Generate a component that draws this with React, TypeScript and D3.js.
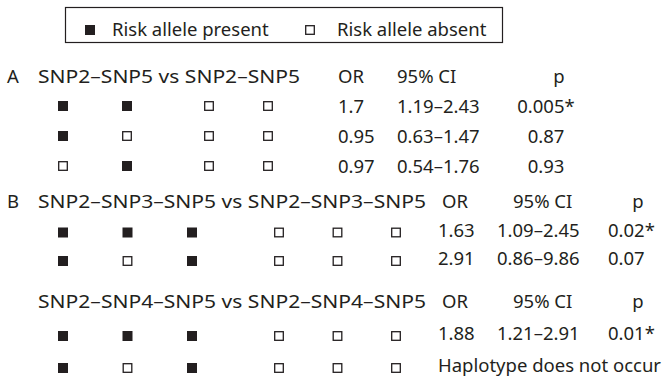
import React from "react";
import * as d3 from "d3";

// legend
const legendLabels = ["Risk allele present", "Risk allele absent"];
const colHeaders = ["OR", "95% CI", "p"];

// A: two-SNP haplotypes
const titleA = "SNP2–SNP5 vs SNP2–SNP5";
const hapA = [
  [1, 1, 0, 0],
  [1, 0, 0, 0],
  [0, 1, 0, 0],
];
const orA = ["1.7", "0.95", "0.97"];
const ciA = ["1.19–2.43", "0.63–1.47", "0.54–1.76"];
const pA = ["0.005*", "0.87", "0.93"];

// B: three-SNP haplotypes
const titleB1 = "SNP2–SNP3–SNP5 vs SNP2–SNP3–SNP5";
const hapB1 = [
  [1, 1, 1, 0, 0, 0],
  [1, 0, 1, 0, 0, 0],
];
const orB1 = ["1.63", "2.91"];
const ciB1 = ["1.09–2.45", "0.86–9.86"];
const pB1 = ["0.02*", "0.07"];

const titleB2 = "SNP2–SNP4–SNP5 vs SNP2–SNP4–SNP5";
const hapB2 = [
  [1, 1, 1, 0, 0, 0],
  [1, 0, 1, 0, 0, 0],
];
const orB2 = ["1.88", ""];
const ciB2 = ["1.21–2.91", ""];
const pB2 = ["0.01*", ""];
const notOccur = "Haplotype does not occur";

const INK = "#231f20";
const FONT = "'Noto Sans', sans-serif";
const FS = 18.5;

const Square = ({ cx, cy, on }) =>
  on ? (
    <rect x={cx - 5} y={cy - 5} width={10} height={10} fill={INK} />
  ) : (
    <rect x={cx - 4.3} y={cy - 4.3} width={8.6} height={8.6} fill="white" stroke={INK} strokeWidth={1.3} />
  );

const Block = ({ label, title, titleLen, haps, or, ci, p, y, xl, xr, cols, sqOff, note }) => {
  const nLeft = haps[0].length / 2;
  return (
    <g fontFamily={FONT} fontSize={FS} fill={INK}>
      {label && <text x={7} y={y(0)}>{label}</text>}
      <text x={38} y={y(0)} textLength={titleLen} lengthAdjust="spacingAndGlyphs">{title}</text>
      <text x={cols.orH} y={y(0)}>{colHeaders[0]}</text>
      <text x={cols.ciH} y={y(0)}>{colHeaders[1]}</text>
      <text x={cols.pH} y={y(0)} textAnchor="middle">{colHeaders[2]}</text>
      {haps.map((row, i) => (
        <g key={i}>
          {row.map((v, j) => (
            <Square key={j} cx={j < nLeft ? xl(j) : xr(j - nLeft)} cy={y(i + 1) - sqOff} on={v === 1} />
          ))}
          {or[i] ? (
            <>
              <text x={cols.or} y={y(i + 1)}>{or[i]}</text>
              <text x={cols.ci} y={y(i + 1)}>{ci[i]}</text>
              <text x={cols.p} y={y(i + 1)} textAnchor={cols.pAnchor}>{p[i]}</text>
            </>
          ) : (
            <text x={cols.or} y={y(i + 1)}>{note}</text>
          )}
        </g>
      ))}
    </g>
  );
};

export default function App() {
  const W = 668;
  const H = 378;

  // row baselines per block
  const yA = d3.scaleLinear().domain([0, 3]).range([83, 173]);
  const yB1 = d3.scaleLinear().domain([0, 2]).range([208, 265]);
  const yB2 = d3.scaleLinear().domain([0, 2]).range([308, 372]);

  // allele columns
  const xlA = d3.scalePoint().domain([0, 1]).range([63, 127]);
  const xrA = d3.scalePoint().domain([0, 1]).range([209, 268]);
  const xlB = d3.scalePoint().domain([0, 1, 2]).range([63, 192]);
  const xrB = d3.scalePoint().domain([0, 1, 2]).range([279, 396]);

  const colsA = { orH: 338, or: 338, ciH: 397, ci: 397, pH: 559, p: 546, pAnchor: "middle" };
  const colsB = { orH: 442, or: 438, ciH: 513, ci: 497, pH: 638, p: 608, pAnchor: "start" };

  return (
    <svg width={W} height={H} style={{ position: "absolute", left: 0, top: 0, background: "white" }}>
      {/* legend */}
      <g fontFamily={FONT} fontSize={FS} fill={INK}>
        <rect x={65.5} y={7.5} width={437} height={35} fill="none" stroke={INK} strokeWidth={1.2} />
        <Square cx={90} cy={30} on={true} />
        <text x={112} y={36}>{legendLabels[0]}</text>
        <Square cx={310} cy={30} on={false} />
        <text x={337} y={36}>{legendLabels[1]}</text>
      </g>
      <Block label="A" title={titleA} titleLen={262} haps={hapA} or={orA} ci={ciA} p={pA} y={yA} xl={xlA} xr={xrA} cols={colsA} sqOff={7} />
      <Block label="B" title={titleB1} titleLen={388} haps={hapB1} or={orB1} ci={ciB1} p={pB1} y={yB1} xl={xlB} xr={xrB} cols={colsB} sqOff={4} />
      <Block title={titleB2} titleLen={388} haps={hapB2} or={orB2} ci={ciB2} p={pB2} y={yB2} xl={xlB} xr={xrB} cols={colsB} sqOff={4} note={notOccur} />
    </svg>
  );
}
